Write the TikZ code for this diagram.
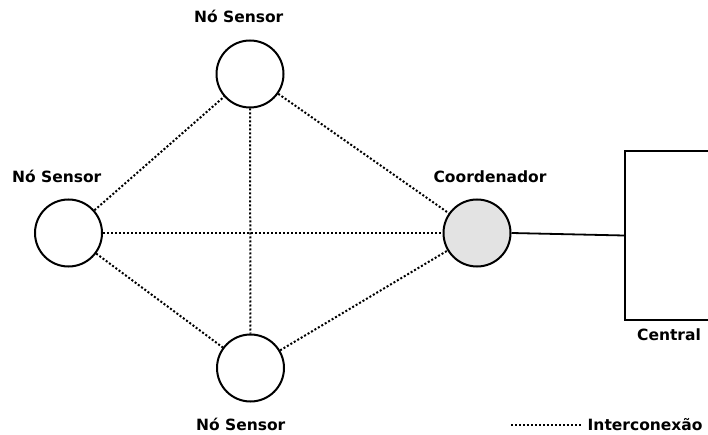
\documentclass[tikz,border=0pt]{standalone}
\usepackage{fontspec}
\setmainfont{DejaVu Sans}
\begin{document}
\begin{tikzpicture}[x=1pt,y=-1pt,
  sensor/.style={circle,draw=black,line width=2pt,minimum size=67pt,inner sep=0pt},
  coord/.style={sensor,fill=black!11},
  link/.style={line width=2pt,dash pattern=on 2pt off 2pt},
  wire/.style={line width=1.8pt},
  lbl/.style={font=\fontsize{15.5}{18}\selectfont\bfseries,inner sep=0pt,anchor=base}]
  \useasboundingbox (0,0) rectangle (708,435);

  % network nodes
  \node[sensor] (top)    at (250,74)  {};
  \node[sensor] (left)   at (68.5,233) {};
  \node[sensor] (bottom) at (250.5,368) {};
  \node[coord]  (hub)    at (477,233) {};

  % labels
  \node[lbl] (ltop)    at (238.7,23)   {Nó Sensor};
  \node[lbl] (lleft)   at (56.7,182.7) {Nó Sensor};
  \node[lbl] (lbottom) at (240.7,430.7){Nó Sensor};
  \node[lbl] (lhub)    at (490,182.7)  {Coordenador};

  % central unit (runs past the right edge)
  \begin{scope}
    \clip (0,0) rectangle (708,435);
    \node[draw=black,line width=2pt,minimum width=90pt,minimum height=169pt,
          anchor=north west,inner sep=0pt] (central) at (624,150) {};
  \end{scope}
  \node[lbl] (lcentral) at (669,340.7) {Central};

  % wireless links
  \draw[link] (left) -- (top);
  \draw[link] (top) -- (hub);
  \draw[link] (top) -- (bottom);
  \draw[link] (left) -- (hub);
  \draw[link] (left) -- (bottom);
  \draw[link] (bottom) -- (hub);

  % wired link to the central unit
  \draw[wire] (hub.east) -- (central.west);

  % legend
  \coordinate (legA) at (511,425);
  \coordinate (legB) at (581,425);
  \draw[link] (legA) -- (legB);
  \node[lbl,anchor=base west] (lleg) at (587.5,430) {Interconexão};
\end{tikzpicture}
\end{document}
